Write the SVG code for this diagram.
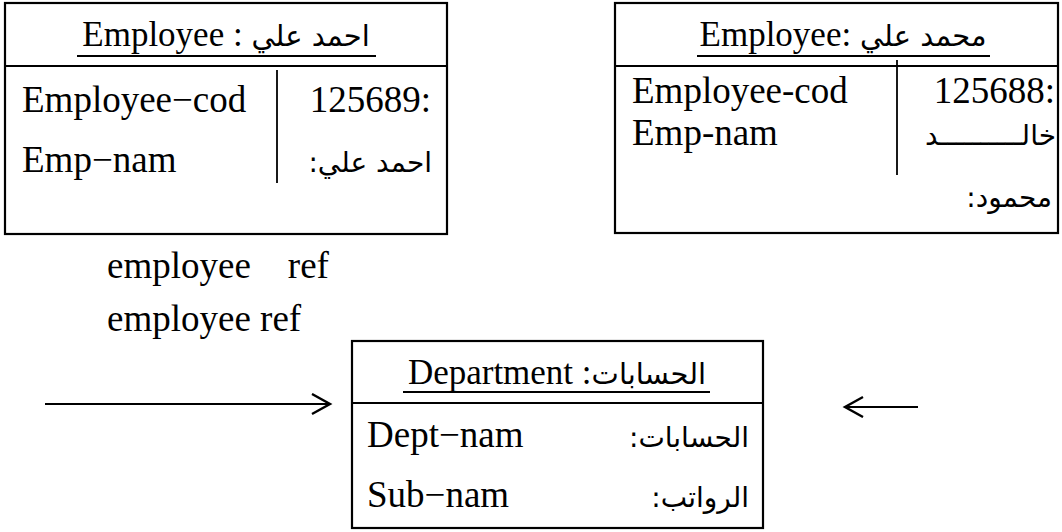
<svg xmlns="http://www.w3.org/2000/svg" width="1062" height="532" viewBox="0 0 1062 532">
<style>
.box{fill:#fff;stroke:#000;stroke-width:2.2}
.ln{stroke:#000;stroke-width:2.2;fill:none}
.dv{stroke:#000;stroke-width:1.8;fill:none}
text{font-family:"Liberation Serif","DejaVu Sans",serif;fill:#000}
.t{font-size:35px}
.b{font-size:37px}
.ar{font-family:"DejaVu Sans","Liberation Sans",sans-serif;font-size:28px}
.ta{font-family:"DejaVu Sans","Liberation Sans",sans-serif;font-size:29px}
.arrow{stroke:#000;stroke-width:2.2;fill:none}
</style>
<defs>
<marker id="chev" markerUnits="userSpaceOnUse" markerWidth="24" markerHeight="24" refX="19" refY="11" orient="auto">
<path d="M1,1 L19,11 L1,21" fill="none" stroke="#000" stroke-width="2.4"/>
</marker>
</defs>

<g id="emp1">
<rect class="box" x="5" y="3" width="442" height="231"/>
<line class="ln" x1="5" y1="66" x2="447" y2="66"/>
<line class="dv" x1="277" y1="70" x2="277" y2="183"/>
<text class="t" x="226" y="46" text-anchor="middle">Employee : <tspan class="ta">احمد علي</tspan></text>
<line class="dv" x1="77" y1="56" x2="376" y2="56"/>
<text class="b" x="22" y="112">Employee−cod</text>
<text class="b" x="431" y="112" text-anchor="end">125689:</text>
<text class="b" x="22" y="172">Emp−nam</text>
<text class="ar" x="432" y="172" direction="rtl" text-anchor="start">احمد علي:</text>
</g>

<g id="emp2">
<rect class="box" x="615" y="3" width="443" height="230"/>
<line class="ln" x1="615" y1="66" x2="1058" y2="66"/>
<line class="dv" x1="897" y1="60" x2="897" y2="175"/>
<text class="t" x="843" y="46" text-anchor="middle">Employee: <tspan class="ta">محمد علي</tspan></text>
<line class="dv" x1="697" y1="56" x2="990" y2="56"/>
<text class="b" x="632" y="103">Employee-cod</text>
<text class="b" x="1055" y="103" text-anchor="end">125688:</text>
<text class="b" x="632" y="145">Emp-nam</text>
<text class="ar" x="1056" y="145" direction="rtl" text-anchor="start">خالــــــــــد</text>
<text class="ar" x="1052" y="207" direction="rtl" text-anchor="start">محمود:</text>
</g>

<g id="ref-labels">
<text class="b" x="107" y="278" xml:space="preserve">employee    ref</text>
<text class="b" x="107" y="331">employee ref</text>
</g>

<g id="dept">
<rect class="box" x="352" y="341" width="411" height="187"/>
<line class="ln" x1="352" y1="403" x2="763" y2="403"/>
<text class="t" x="557" y="384" text-anchor="middle">Department :<tspan class="ta">الحسابات</tspan></text>
<line class="dv" x1="403" y1="392" x2="710" y2="392"/>
<text class="b" x="367" y="447">Dept−nam</text>
<text class="ar" x="749" y="447" direction="rtl" text-anchor="start">الحسابات:</text>
<text class="b" x="367" y="507">Sub−nam</text>
<text class="ar" x="749" y="507" direction="rtl" text-anchor="start">الرواتب:</text>
</g>

<g id="connectors">
<line class="arrow" x1="45" y1="404" x2="330" y2="404" marker-end="url(#chev)"/>
<line class="arrow" x1="918" y1="407" x2="845" y2="407" marker-end="url(#chev)"/>
</g>
</svg>
